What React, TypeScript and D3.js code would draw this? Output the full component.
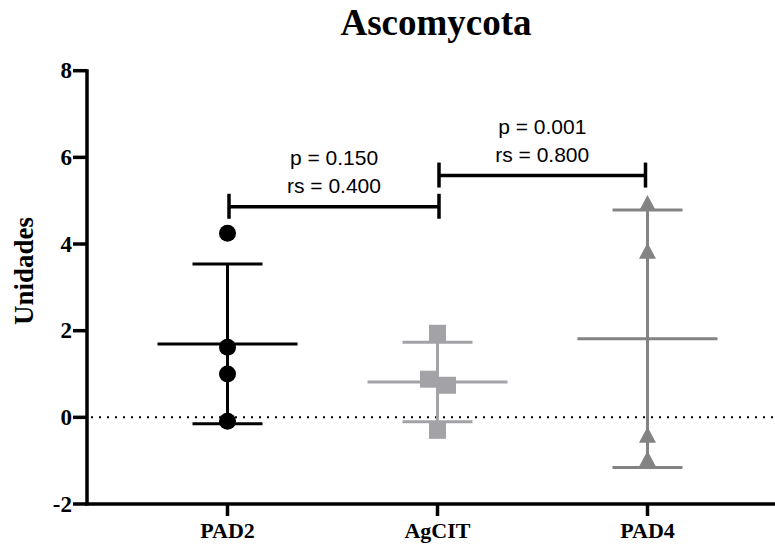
import React from "react";
import * as d3 from "d3";

// groups and their measured values (Unidades)
const groups = ["PAD2", "AgCIT", "PAD4"];
const pad2 = [4.25, 1.62, 1.0, -0.09];
const agcit = [1.94, 0.88, 0.74, -0.3];
const pad4 = [4.9, 3.8, -0.45, -1.0];
// small horizontal offsets GraphPad used to avoid overlaps (px)
const agcitJitter = [0, -9, 10, 0];
const yTicks = [-2, 0, 2, 4, 6, 8];

// comparison brackets
const compFrom = ["PAD2", "AgCIT"];
const compTo = ["AgCIT", "PAD4"];
const compLevel = [4.86, 5.58];
const compP = ["p = 0.150", "p = 0.001"];
const compRs = ["rs = 0.400", "rs = 0.800"];

const colors = ["#000000", "#a3a3a7", "#838383"];
const shapes = ["circle", "square", "triangle"];

const W = 775;
const H = 546;
const left = 87;
const bottom = 504;

export default function App() {
  const y = d3.scaleLinear().domain([-2, 8]).range([bottom, 70.7]);
  const x = d3.scalePoint<string>().domain(groups).range([227.5, 647.5]);
  const series = [pad2, agcit, pad4];
  const serif = "'Liberation Serif', 'Times New Roman', serif";
  const sans = "'Liberation Sans', Arial, sans-serif";

  const marker = (shape: string, cx: number, cy: number, color: string, key: string) => {
    if (shape === "circle") return <circle key={key} cx={cx} cy={cy} r={8.5} fill={color} />;
    if (shape === "square")
      return <rect key={key} x={cx - 8.5} y={cy - 8.5} width={17} height={17} fill={color} />;
    return (
      <path key={key} d={`M${cx},${cy - 10}L${cx + 8.5},${cy + 6}L${cx - 8.5},${cy + 6}Z`} fill={color} />
    );
  };

  return (
    <svg width={W} height={H} style={{ position: "absolute", left: 0, top: 0, background: "#fff" }}>
      {/* title */}
      <text x={436} y={35} textAnchor="middle" fontFamily={serif} fontWeight="bold" fontSize={37}>
        Ascomycota
      </text>
      {/* y label */}
      <text
        transform={`translate(33,${271}) rotate(-90)`}
        textAnchor="middle"
        fontFamily={serif}
        fontWeight="bold"
        fontSize={27}
      >
        Unidades
      </text>

      {/* zero reference line */}
      <line x1={left + 4} x2={W} y1={y(0)} y2={y(0)} stroke="#000" strokeWidth={2} strokeDasharray="2,6" />

      {/* axes */}
      <line x1={left} x2={left} y1={y(8) - 1.5} y2={bottom + 1.5} stroke="#000" strokeWidth={3.5} />
      <line x1={left - 1.5} x2={W} y1={bottom} y2={bottom} stroke="#000" strokeWidth={3.5} />
      {yTicks.map((t) => (
        <g key={t}>
          <line x1={left - 14} x2={left} y1={y(t)} y2={y(t)} stroke="#000" strokeWidth={3.5} />
          <text
            x={left - 15}
            y={y(t) + 7.5}
            textAnchor="end"
            fontFamily={serif}
            fontWeight="bold"
            fontSize={23}
          >
            {t}
          </text>
        </g>
      ))}
      {groups.map((g) => (
        <g key={g}>
          <line x1={x(g)} x2={x(g)} y1={bottom} y2={bottom + 12} stroke="#000" strokeWidth={3.5} />
          <text x={x(g)} y={538} textAnchor="middle" fontFamily={serif} fontWeight="bold" fontSize={22}>
            {g}
          </text>
        </g>
      ))}

      {/* mean ± SD and individual points */}
      {groups.map((g, i) => {
        const vals = series[i];
        const m = d3.mean(vals) as number;
        const sd = d3.deviation(vals) as number;
        const cx = x(g) as number;
        const c = colors[i];
        return (
          <g key={g}>
            <line x1={cx} x2={cx} y1={y(m + sd)} y2={y(m - sd)} stroke={c} strokeWidth={3} />
            <line x1={cx - 70} x2={cx + 70} y1={y(m)} y2={y(m)} stroke={c} strokeWidth={3} />
            <line x1={cx - 35} x2={cx + 35} y1={y(m + sd)} y2={y(m + sd)} stroke={c} strokeWidth={3} />
            <line x1={cx - 35} x2={cx + 35} y1={y(m - sd)} y2={y(m - sd)} stroke={c} strokeWidth={3} />
            {vals.map((v, j) =>
              marker(shapes[i], cx + (i === 1 ? agcitJitter[j] : 0), y(v), c, `${g}-${j}`)
            )}
          </g>
        );
      })}

      {/* comparison brackets */}
      {compFrom.map((f, i) => {
        const x1 = (x(f) as number) + 1.5;
        const x2 = (x(compTo[i]) as number) + (i === 0 ? 1.5 : -2);
        const yy = y(compLevel[i]);
        const mid = (x1 + x2) / 2;
        return (
          <g key={f}>
            <line x1={x1} x2={x2} y1={yy} y2={yy} stroke="#000" strokeWidth={3.5} />
            <line x1={x1} x2={x1} y1={yy - 13} y2={yy + 12} stroke="#000" strokeWidth={3.5} />
            <line x1={x2} x2={x2} y1={yy - 13} y2={yy + 12} stroke="#000" strokeWidth={3.5} />
            <text x={mid} y={yy - 41.5} textAnchor="middle" fontFamily={sans} fontSize={21}>
              {compP[i]}
            </text>
            <text x={mid} y={yy - 13.5} textAnchor="middle" fontFamily={sans} fontSize={21}>
              {compRs[i]}
            </text>
          </g>
        );
      })}
    </svg>
  );
}
